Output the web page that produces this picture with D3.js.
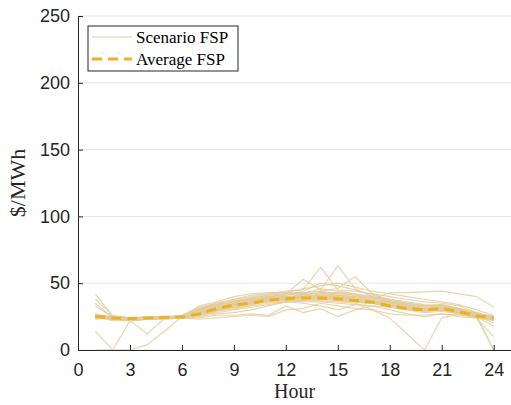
<!DOCTYPE html>
<html>
<head>
<meta charset="utf-8">
<script src="https://cdn.jsdelivr.net/npm/d3@7"></script>
<style>
  body { margin: 0; background: #fff; }
  .tick text { font-family: "Liberation Sans", Arial, sans-serif; font-size: 18px; fill: #262626; }
</style>
</head>
<body>
<script>
// hours on x, $/MWh on y
var hours = d3.range(1, 25)
var xTicks = [0, 3, 6, 9, 12, 15, 18, 21, 24]
var yTicks = [0, 50, 100, 150, 200, 250]

// scenario forecasted prices
var s1 = [42, 25, 23, 23, 24, 25, 33, 36, 40, 42, 43, 43, 46, 48, 50, 47, 44, 42, 40, 38, 36, 34, 30, 26]
var s2 = [38, 26, 24, 24, 25, 26, 32, 35, 38, 41, 42, 44, 45, 62, 45, 44, 42, 40, 38, 36, 35, 33, 28, 24]
var s3 = [35, 24, 23, 24, 24, 25, 30, 33, 36, 39, 41, 42, 53, 45, 63, 46, 40, 38, 36, 34, 33, 31, 27, 22]
var s4 = [33, 25, 24, 23, 25, 25, 29, 32, 35, 38, 40, 41, 43, 44, 46, 55, 42, 37, 34, 32, 33, 30, 26, 20]
var s5 = [14, 0, 22, 12, 24, 25, 28, 30, 33, 36, 39, 40, 40, 42, 43, 41, 38, 36, 33, 31, 32, 29, 25, 23]
var s6 = [0, 0, 0, 4, 14, 25, 27, 30, 32, 35, 37, 39, 41, 40, 40, 39, 37, 35, 32, 30, 31, 29, 26, 0]
var s7 = [26, 23, 22, 23, 23, 24, 26, 29, 31, 34, 37, 39, 40, 41, 41, 40, 38, 43, 43, 43.5, 44, 42, 40, 32]
var s8 = [27, 24, 23, 24, 24, 24, 25, 27, 28, 30, 33, 36, 38, 39, 40, 38, 36, 34, 31, 29, 30, 27, 24, 10]
var s9 = [25, 23, 23, 23, 24, 24, 24, 26, 26, 27, 26, 33, 28, 31, 25, 30, 33, 30, 27, 25, 27, 26, 25, 24]
var s10 = [24, 24, 22, 23, 23, 24, 23, 24, 25, 26, 25, 30, 31, 35, 33, 31, 30, 27, 26, 26, 27, 25, 24, 22]
var s11 = [25, 24, 24, 24, 24, 25, 27, 30, 31, 33, 35, 36, 37, 37, 36, 35, 30, 24, 12, 0, 24, 27, 25, 25]
var s12 = [26, 25, 24, 25, 25, 25, 28, 31, 34, 36, 38, 39, 40, 41, 40, 38, 36, 33, 31, 30, 31, 29, 26, 24]
var s13 = [24, 23, 23, 24, 24, 24, 26, 29, 33, 35, 37, 38, 39, 40, 38, 37, 36, 34, 32, 30, 31, 28, 25, 23]
var s14 = [23, 24, 23, 23, 24, 25, 27, 31, 34, 36, 39, 40, 41, 43, 41, 39, 37, 35, 33, 31, 32, 30, 27, 25]
var s15 = [25, 22, 22, 23, 24, 25, 29, 32, 35, 37, 39, 40, 39, 38, 37, 36, 35, 33, 31, 29, 30, 28, 26, 25]
var s16 = [24, 24, 23, 24, 24, 24, 30, 34, 37, 38, 40, 42, 42, 40, 38, 37, 35, 32, 30, 28, 29, 27, 25, 0]
var s17 = [25, 23, 23, 24, 24, 25, 27, 30, 32, 34, 36, 37, 36, 36, 35, 34, 33, 32, 31, 30, 31, 29, 26, 24]
var s18 = [26, 25, 24, 24, 25, 25, 31, 34, 36, 38, 40, 41, 44, 50, 48, 45, 41, 38, 35, 33, 34, 31, 27, 24]
var s19 = [25, 24, 23, 24, 24, 25, 26, 28, 30, 32, 34, 36, 35, 33, 30, 34, 35, 33, 30, 29, 30, 28, 25, 18]
var s20 = [24, 23, 22, 23, 24, 24, 28, 31, 34, 36, 38, 39, 42, 46, 44, 42, 39, 36, 33, 31, 32, 30, 27, 25]
var s21 = [25, 24, 23, 24, 24, 25, 30, 33, 35, 37, 38, 38, 39, 40, 39, 38, 36, 35, 33, 31, 31, 29, 26, 24]
var s22 = [26, 24, 24, 24, 25, 25, 31, 34, 36, 38, 39, 40, 40, 41, 41, 40, 38, 36, 34, 32, 33, 30, 27, 25]
var s23 = [24, 24, 23, 23, 24, 24, 29, 32, 34, 36, 37, 38, 38, 39, 38, 37, 36, 34, 32, 30, 30, 28, 25, 24]
var s24 = [25, 23, 23, 24, 24, 25, 30, 34, 37, 39, 41, 42, 42, 43, 43, 42, 40, 37, 35, 33, 34, 31, 28, 25]
var s25 = [24, 24, 23, 24, 24, 24, 28, 31, 33, 35, 36, 37, 37, 38, 37, 36, 35, 33, 31, 30, 30, 28, 26, 24]
var s26 = [25, 24, 24, 24, 25, 25, 31, 35, 38, 40, 42, 43, 43, 44, 42, 41, 39, 37, 35, 33, 33, 31, 27, 25]
var scenarios = [s1, s2, s3, s4, s5, s6, s7, s8, s9, s10, s11, s12, s13,
    s14, s15, s16, s17, s18, s19, s20, s21, s22, s23, s24, s25, s26]

// average forecasted price
var avgFSP = [25, 24, 23.5, 24, 24.5, 24.7, 27, 31, 33.7, 35, 37.4, 38.4, 39, 39, 38.4, 37, 35.7, 33, 31, 30, 31, 28.7, 25.5, 24]

var w = 511
var h = 405
var margin = {left: 78, right: 0, top: 16, bottom: 55}

var svg = d3.select("body").append("svg")
    .attr("width", w)
    .attr("height", h)

var xScale = d3.scaleLinear().domain([0, 25]).range([margin.left, w - margin.right])
var yScale = d3.scaleLinear().domain([0, 250]).range([h - margin.bottom, margin.top])

// horizontal grid
svg.append("g")
    .selectAll("line").data(yTicks).enter()
    .append("line")
    .attr("x1", xScale(0))
    .attr("x2", xScale(25))
    .attr("y1", function (d) { return yScale(d) })
    .attr("y2", function (d) { return yScale(d) })
    .attr("stroke", "#e5e5e5")
    .attr("stroke-width", 1)

var line = d3.line()
    .x(function (d, i) { return xScale(hours[i]) })
    .y(function (d) { return yScale(d) })

svg.append("g")
    .selectAll("path").data(scenarios).enter()
    .append("path")
    .attr("d", line)
    .attr("fill", "none")
    .attr("stroke", "#e2cc9e")
    .attr("stroke-opacity", 0.8)
    .attr("stroke-width", 1.2)

svg.append("path")
    .attr("d", line(avgFSP))
    .attr("fill", "none")
    .attr("stroke", "#edb120")
    .attr("stroke-width", 3)
    .attr("stroke-dasharray", "10,6")

// axes, MATLAB style inward ticks
var xAxis = d3.axisBottom(xScale).tickValues(xTicks).tickSizeInner(-5).tickSizeOuter(0).tickPadding(10)
var yAxis = d3.axisLeft(yScale).tickValues(yTicks).tickSizeInner(-5).tickSizeOuter(0).tickPadding(8)

var gx = svg.append("g")
    .attr("transform", "translate(0," + yScale(0) + ")")
    .call(xAxis)
var gy = svg.append("g")
    .attr("transform", "translate(" + xScale(0) + ",0)")
    .call(yAxis)

gx.select(".domain").attr("stroke", "#262626")
gy.select(".domain").attr("stroke", "#262626")
svg.selectAll(".tick line").attr("stroke", "#262626")
gx.selectAll(".tick text").attr("dy", "0.9em")

svg.append("text")
    .attr("x", xScale(12.5))
    .attr("y", 398)
    .attr("text-anchor", "middle")
    .attr("font-family", "Liberation Serif, serif")
    .attr("font-size", 20)
    .attr("fill", "#262626")
    .text("Hour")

svg.append("text")
    .attr("transform", "translate(25," + yScale(125) + ") rotate(-90)")
    .attr("text-anchor", "middle")
    .attr("font-family", "Liberation Serif, serif")
    .attr("font-size", 22)
    .attr("fill", "#262626")
    .text("$/MWh")

// legend
var lg = svg.append("g")
lg.append("rect")
    .attr("x", 88).attr("y", 26)
    .attr("width", 150).attr("height", 45)
    .attr("fill", "#fff")
    .attr("stroke", "#262626")
    .attr("stroke-width", 1)

lg.append("line")
    .attr("x1", 92).attr("x2", 132)
    .attr("y1", 37).attr("y2", 37)
    .attr("stroke", "#e2cc9e")
    .attr("stroke-width", 1.2)
lg.append("line")
    .attr("x1", 92).attr("x2", 132)
    .attr("y1", 59).attr("y2", 59)
    .attr("stroke", "#edb120")
    .attr("stroke-width", 3)
    .attr("stroke-dasharray", "10,6")

lg.selectAll("text").data(["Scenario FSP", "Average FSP"]).enter()
    .append("text")
    .attr("x", 136)
    .attr("y", function (d, i) { return 37 + i * 22 })
    .attr("dy", "0.35em")
    .attr("font-family", "Liberation Serif, serif")
    .attr("font-size", 17)
    .attr("fill", "#000")
    .text(function (d) { return d })
</script>
</body>
</html>
